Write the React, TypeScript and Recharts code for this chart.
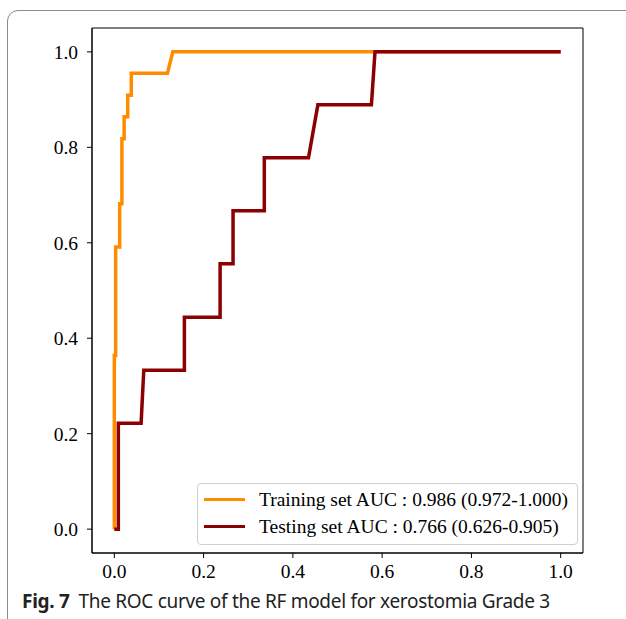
import React from 'react';
import { LineChart, Line, XAxis, YAxis, ReferenceArea } from 'recharts';

// ROC points (false positive rate, true positive rate)
const trainFpr = [0, 0, 0.003, 0.003, 0.012, 0.012, 0.017, 0.017, 0.022, 0.022, 0.03, 0.03, 0.038, 0.038, 0.119, 0.131, 1.0];
const trainTpr = [0, 0.364, 0.364, 0.591, 0.591, 0.682, 0.682, 0.818, 0.818, 0.864, 0.864, 0.909, 0.909, 0.955, 0.955, 1.0, 1.0];

const testFpr = [0, 0.009, 0.009, 0.06, 0.066, 0.157, 0.157, 0.237, 0.237, 0.266, 0.266, 0.336, 0.336, 0.435, 0.456, 0.576, 0.584, 1.0];
const testTpr = [0, 0, 0.222, 0.222, 0.333, 0.333, 0.444, 0.444, 0.556, 0.556, 0.667, 0.667, 0.778, 0.778, 0.889, 0.889, 1.0, 1.0];

const ticks = [0, 0.2, 0.4, 0.6, 0.8, 1.0];
const seriesNames = ['Training set AUC : 0.986 (0.972-1.000)', 'Testing set AUC : 0.766 (0.626-0.905)'];
const seriesColors = ['#ff8c00', '#8b0000'];

const trainData = trainFpr.map((x, i) => ({ fpr: x, tpr: trainTpr[i] }));
const testData = testFpr.map((x, i) => ({ fpr: x, tpr: testTpr[i] }));

const serif = '"Liberation Serif", "Times New Roman", serif';
const fs = 19.5;

function RocLegend() {
  return (
    <div
      style={{
        position: 'absolute',
        left: 197,
        top: 483,
        width: 381,
        height: 62,
        border: '1px solid #d0d0d0',
        borderRadius: 4,
        background: 'rgba(255,255,255,0.8)',
        boxSizing: 'border-box',
        padding: '2px 0 0 6px',
        fontFamily: serif,
        fontSize: fs,
        color: '#000',
      }}
    >
      {seriesNames.map((n, i) => (
        <div key={n} style={{ display: 'flex', alignItems: 'center', height: 27 }}>
          <span style={{ display: 'inline-block', width: 41, height: 3.5, background: seriesColors[i], marginRight: 14 }} />
          <span>{n}</span>
        </div>
      ))}
    </div>
  );
}

export default function App() {
  return (
    <div style={{ position: 'fixed', left: 0, top: 0, width: 626, height: 619, overflow: 'hidden', background: '#fff' }}>
      <div
        style={{
          position: 'absolute',
          left: 7,
          top: 10,
          width: 640,
          height: 640,
          border: '1px solid #8a8a8a',
          borderRadius: 11,
          boxSizing: 'border-box',
        }}
      />
      <div style={{ position: 'absolute', left: 0, top: 0 }}>
        <LineChart width={626} height={619} margin={{ top: 28, right: 43, bottom: 0, left: 0 }}>
          <XAxis
            dataKey="fpr"
            type="number"
            domain={[-0.05, 1.05]}
            ticks={ticks}
            allowDataOverflow
            height={66}
            tickSize={5}
            tickMargin={6}
            tickFormatter={(v: number) => v.toFixed(1)}
            stroke="#000"
            tick={{ fill: '#000', fontSize: fs, fontFamily: serif }}
          />
          <YAxis
            dataKey="tpr"
            type="number"
            domain={[-0.05, 1.05]}
            ticks={ticks}
            allowDataOverflow
            width={92}
            tickSize={5}
            tickMargin={9}
            tickFormatter={(v: number) => v.toFixed(1)}
            stroke="#000"
            tick={{ fill: '#000', fontSize: fs, fontFamily: serif }}
          />
          <ReferenceArea x1={-0.05} x2={1.05} y1={-0.05} y2={1.05} fill="none" stroke="#000" strokeWidth={1} fillOpacity={0} />
          <Line
            data={trainData}
            dataKey="tpr"
            type="linear"
            stroke={seriesColors[0]}
            strokeWidth={3.5}
            dot={false}
            isAnimationActive={false}
          />
          <Line
            data={testData}
            dataKey="tpr"
            type="linear"
            stroke={seriesColors[1]}
            strokeWidth={3.5}
            dot={false}
            isAnimationActive={false}
          />
        </LineChart>
      </div>
      <RocLegend />
      <div
        style={{
          position: 'absolute',
          left: 22,
          top: 588,
          fontFamily: '"Noto Sans", sans-serif',
          fontSize: 19,
          color: '#222',
          whiteSpace: 'nowrap',
          letterSpacing: -0.3,
        }}
      >
        <b>Fig. 7</b>
        <span style={{ marginLeft: 9 }}>The ROC curve of the RF model for xerostomia Grade 3</span>
      </div>
    </div>
  );
}
